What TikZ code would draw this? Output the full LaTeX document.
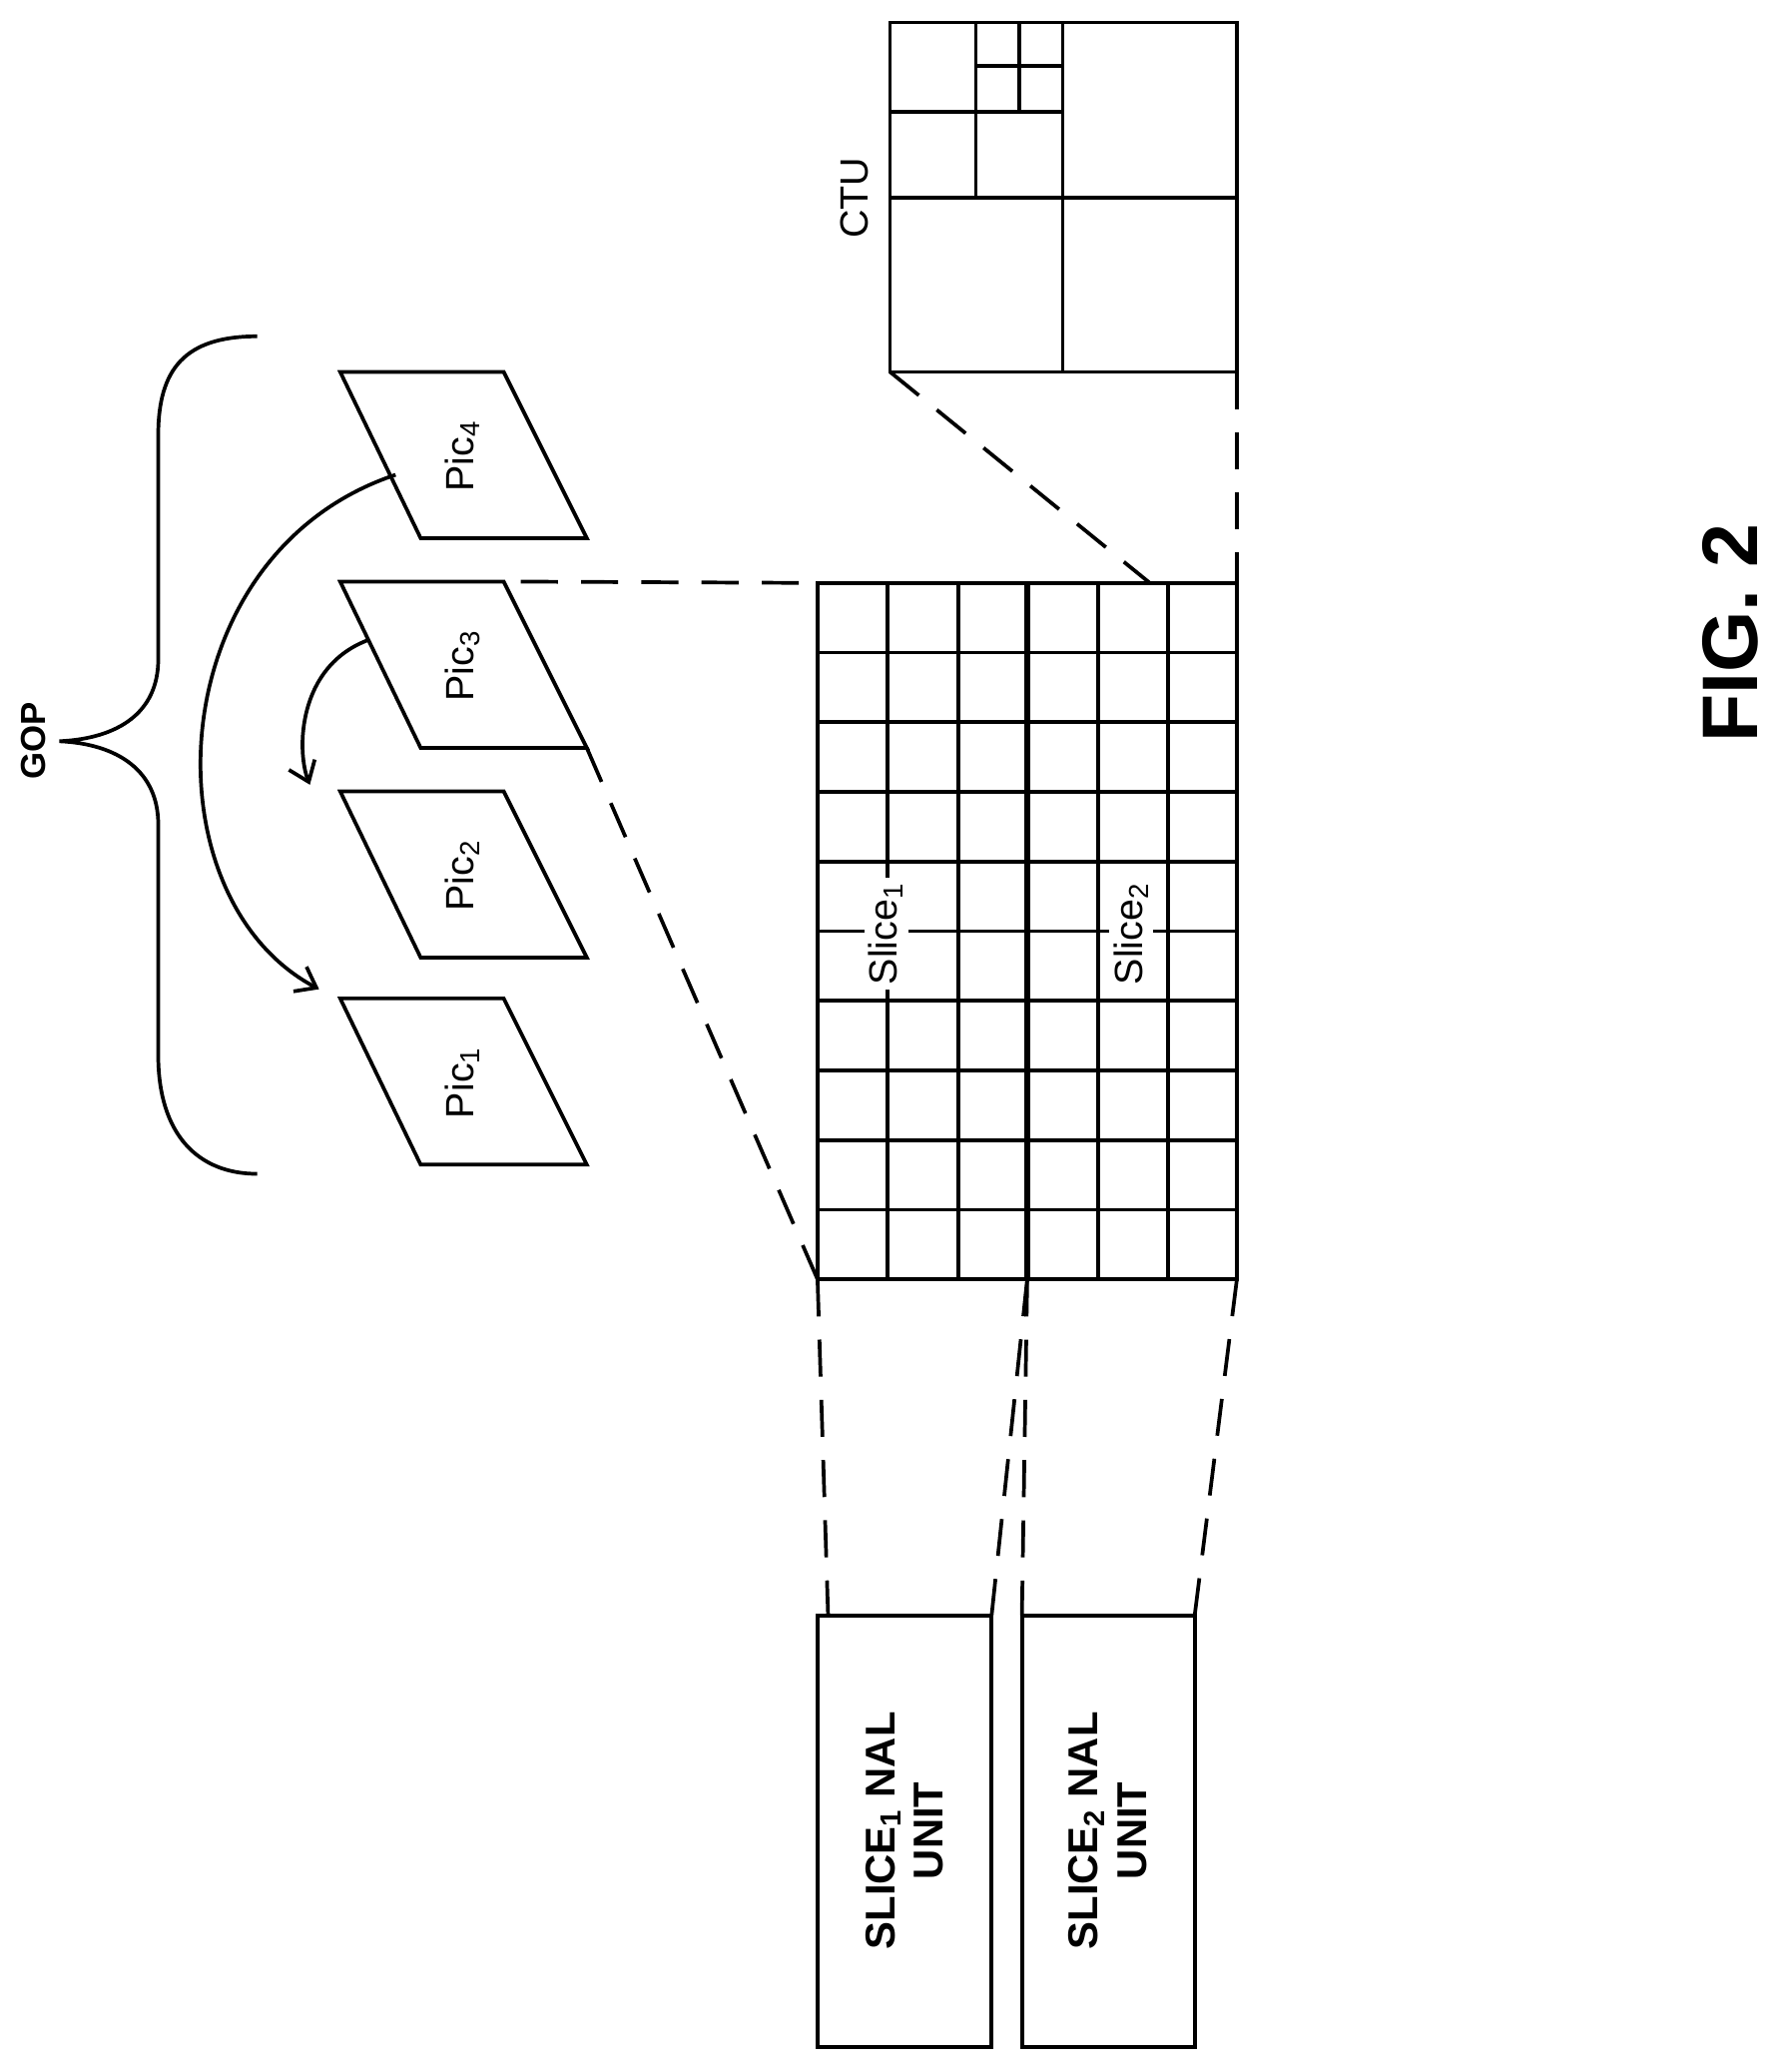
\documentclass[tikz,border=0pt]{standalone}
\usepackage{fontspec}
\setmainfont{Liberation Sans}
\usetikzlibrary{arrows.meta}
\begin{document}
\begin{tikzpicture}[x=0.02cm,y=-0.02cm,line width=1.6pt,
  dsh/.style={dash pattern=on 16pt off 10pt,line width=1.6pt},
  pic/.style={font=\fontsize{17}{20}\selectfont,rotate=90},
  lbl/.style={font=\fontsize{17}{20}\selectfont,rotate=90,fill=white,inner sep=2pt},
  nal/.style={font=\bfseries\fontsize{18}{21}\selectfont,rotate=90,align=center}]
\useasboundingbox (0,0) rectangle (1350,1571);
% CTU
\draw (675,17) rectangle (938,282);
\draw (806,17)--(806,282) (675,150)--(938,150) (740,17)--(740,150) (675,85)--(806,85)
      (773,17)--(773,85) (740,50)--(806,50);
\node[pic] (ctu) at (648,150) {CTU};
% grid
\foreach \x in {673,727,833,886} \draw (\x,442)--(\x,970);
\foreach \i in {1,...,9} \draw (620,{442+\i*52.8})--(938,{442+\i*52.8});
\draw (620,442) rectangle (938,970);
\draw[line width=2.6pt] (779,442)--(779,970);
\coordinate (gtl) at (620,442); \coordinate (gbl) at (620,970);
\coordinate (gbm) at (779,970); \coordinate (gbr) at (938,970);
\coordinate (gtr) at (938,442); \coordinate (gtm) at (872,442);
\node[lbl] (s1) at (672,708) {Slice\textsubscript{1}};
\node[lbl] (s2) at (858,708) {Slice\textsubscript{2}};
% pics
\foreach \n/\y in {1/757,2/600,3/441,4/282}{
  \draw (258,\y)--(382,\y)--(445,\y+126)--(319,\y+126)--cycle;
  \node[pic] (p\n) at (351,\y+64) {Pic\textsubscript{\n}};
}
\draw[-{Straight Barb[length=8pt,width=12pt]}] (300,360) .. controls (120,420) and (110,680) .. (242,750);
\draw[-{Straight Barb[length=8pt,width=12pt]}] (280,485) .. controls (225,505) and (225,570) .. (235,595);
% brace
\draw (195,255) .. controls (140,255) and (120,280) .. (120,330) -- (120,500)
      .. controls (120,540) and (90,560) .. (45,562)
      .. controls (90,564) and (120,585) .. (120,625) -- (120,800)
      .. controls (120,860) and (150,890) .. (195,890);
\node[font=\bfseries\fontsize{15}{17}\selectfont,rotate=90] (gop) at (25,562) {GOP};
% dashed
\draw[dsh] (395,441)--(gtl);
\draw[dsh] (445,567)--(gbl);
\draw[dsh] (675,282)--(gtm);
\draw[dsh] (938,282)--(gtr);
% NAL
\draw (620,1225) rectangle (752,1552);
\draw (775,1225) rectangle (906,1552);
\node[nal] (n1) at (686,1388) {SLICE\textsubscript{1} NAL\\UNIT};
\node[nal] (n2) at (840,1388) {SLICE\textsubscript{2} NAL\\UNIT};
\draw[dsh] (gbl)--(628,1225);
\draw[dsh] (gbm)--(752,1225);
\draw[dsh] (gbm)--(775,1225);
\draw[dsh] (gbr)--(906,1225);
\node[font=\bfseries\fontsize{34}{40}\selectfont,rotate=90] (fig) at (1312,480) {FIG. 2};
\end{tikzpicture}
\end{document}
